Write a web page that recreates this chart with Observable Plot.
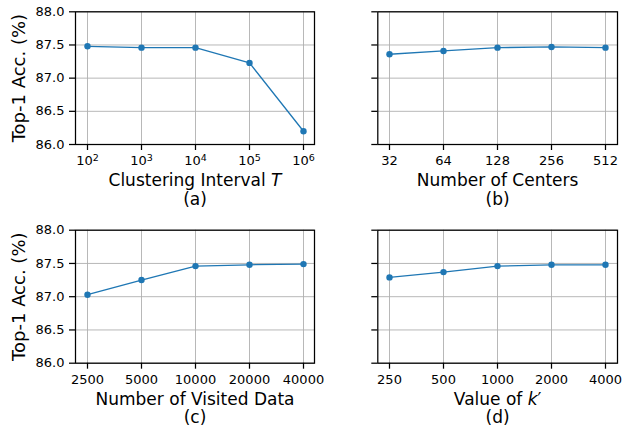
<!DOCTYPE html>
<html>
<head>
<meta charset="utf-8">
<script src="https://cdn.jsdelivr.net/npm/d3@7"></script>
<script src="https://cdn.jsdelivr.net/npm/@observablehq/plot@0.6"></script>
<style>
  html, body { margin: 0; padding: 0; background: white; }
  #chart { position: relative; width: 626px; height: 428px; background: white; overflow: hidden; }
  #chart svg { position: absolute; }
</style>
</head>
<body>
<div id="chart"></div>
<script>
// ---- data ----
const yTicks = [86.0, 86.5, 87.0, 87.5, 88.0];
const yLabel = "Top-1 Acc. (%)";

const intervals = ["10^2", "10^3", "10^4", "10^5", "10^6"];
const accInterval = [87.48, 87.46, 87.46, 87.23, 86.20];

const centers = ["32", "64", "128", "256", "512"];
const accCenters = [87.36, 87.41, 87.46, 87.47, 87.46];

const visited = ["2500", "5000", "10000", "20000", "40000"];
const accVisited = [87.03, 87.25, 87.46, 87.48, 87.49];

const kValues = ["250", "500", "1000", "2000", "4000"];
const accK = [87.29, 87.37, 87.46, 87.48, 87.48];

const xLabels = ["Clustering Interval $T$", "Number of Centers", "Number of Visited Data", "Value of $k$′"];
const captions = ["(a)", "(b)", "(c)", "(d)"];

// ---- drawing ----
const blue = "#1f77b4";
const gridColor = "#b0b0b0";
const chart = document.getElementById("chart");

function richText(svg) {
  svg.querySelectorAll("text").forEach(t => {
    const s = t.textContent;
    if (s.includes("^")) {
      const m = s.match(/^(.*)\^(\d+)$/);
      if (m) {
        t.textContent = "";
        const a = document.createElementNS("http://www.w3.org/2000/svg", "tspan");
        a.textContent = m[1];
        const b = document.createElementNS("http://www.w3.org/2000/svg", "tspan");
        b.textContent = m[2];
        b.setAttribute("font-size", "9.5");
        b.setAttribute("dy", "-4.5");
        t.appendChild(a); t.appendChild(b);
      }
    } else if (s.includes("$")) {
      const parts = s.split("$");
      t.textContent = "";
      parts.forEach((p, i) => {
        if (!p) return;
        const ts = document.createElementNS("http://www.w3.org/2000/svg", "tspan");
        ts.textContent = p;
        if (i % 2 === 1) ts.setAttribute("font-style", "italic");
        t.appendChild(ts);
      });
    }
  });
}

function panel({xs, ys, xLabel, caption, showY, left, top, width, height, mL, mR, mT, mB}) {
  const data = xs.map((x, i) => ({x, y: ys[i]}));
  const marks = [
    Plot.gridX({stroke: gridColor, strokeOpacity: 1, strokeWidth: 0.9}),
    Plot.gridY(yTicks, {stroke: gridColor, strokeOpacity: 1, strokeWidth: 0.9}),
    Plot.line(data, {x: "x", y: "y", stroke: blue, strokeWidth: 1.3}),
    Plot.dot(data, {x: "x", y: "y", fill: blue, r: 3.2}),
    Plot.frame({stroke: "black", strokeWidth: 1.25}),
    Plot.axisX({tickSize: 6, tickPadding: 5.5, strokeWidth: 1.25, fontSize: 13, label: null}),
    Plot.axisY(yTicks, {tickSize: 6, tickPadding: 5, strokeWidth: 1.25, fontSize: 13, label: null,
      tickFormat: d => d.toFixed(1), fill: showY ? "black" : "none"}),
    Plot.text([xLabel], {text: d => d, frameAnchor: "bottom", textAnchor: "middle", lineAnchor: "middle",
      dy: 36.3, fontSize: 17, fill: "black"}),
    Plot.text([caption], {text: d => d, frameAnchor: "bottom", textAnchor: "middle", lineAnchor: "middle",
      dy: 54.6, fontSize: 17, fill: "black"})
  ];
  if (showY) {
    marks.push(Plot.text([yLabel], {text: d => d, frameAnchor: "left", textAnchor: "middle", lineAnchor: "middle",
      rotate: -90, dx: -56.3, fontSize: 18, fill: "black"}));
  }
  const svg = Plot.plot({
    width, height,
    marginLeft: mL, marginRight: mR, marginTop: mT, marginBottom: mB,
    style: {fontFamily: "'DejaVu Sans', sans-serif", fontSize: "13px", color: "black", background: "transparent", overflow: "visible"},
    x: {type: "point", domain: xs, padding: 0.19, label: null},
    y: {domain: [86, 88], label: null},
    marks
  });
  svg.style.left = left + "px";
  svg.style.top = top + "px";
  richText(svg);
  chart.appendChild(svg);
}

panel({xs: intervals, ys: accInterval, xLabel: xLabels[0], caption: captions[0], showY: true,
  left: 0, top: 0, width: 320, height: 214, mL: 75, mR: 6, mT: 11.3, mB: 70});
panel({xs: centers, ys: accCenters, xLabel: xLabels[1], caption: captions[1], showY: false,
  left: 320, top: 0, width: 306, height: 214, mL: 57.3, mR: 9, mT: 11.3, mB: 70});
panel({xs: visited, ys: accVisited, xLabel: xLabels[2], caption: captions[2], showY: true,
  left: 0, top: 214, width: 320, height: 214, mL: 75, mR: 6, mT: 15.7, mB: 65.3});
panel({xs: kValues, ys: accK, xLabel: xLabels[3], caption: captions[3], showY: false,
  left: 320, top: 214, width: 306, height: 214, mL: 57.3, mR: 9, mT: 15.7, mB: 65.3});
</script>
</body>
</html>
